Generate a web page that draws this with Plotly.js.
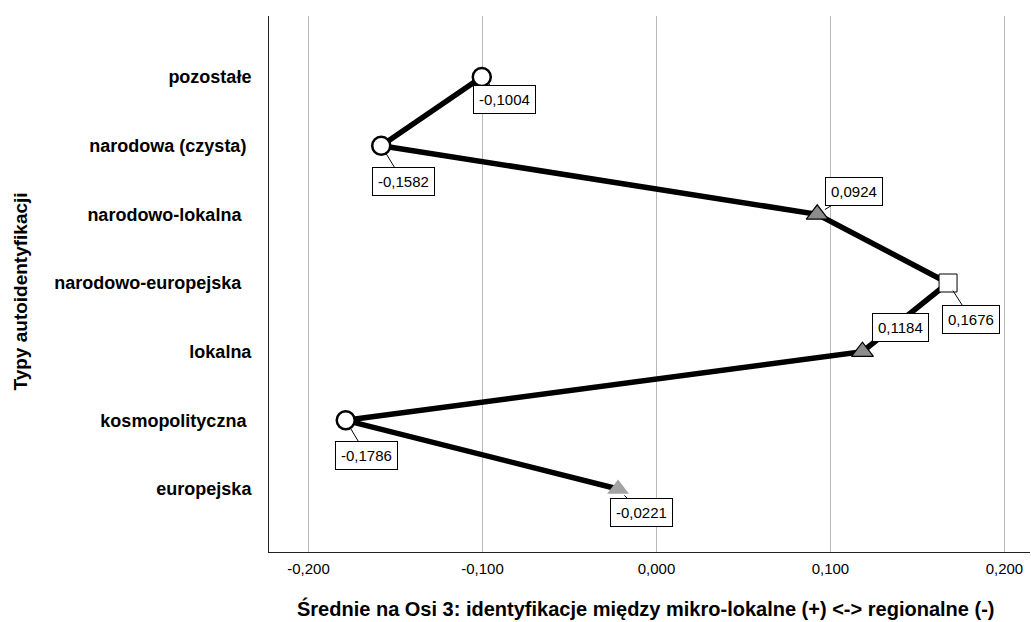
<!DOCTYPE html>
<html>
<head>
<meta charset="utf-8">
<script src="https://cdn.plot.ly/plotly-3.0.1.min.js"></script>
<style>html,body{margin:0;padding:0;background:#fff;}#chart{width:1031px;height:622px;}</style>
</head>
<body>
<div id="chart"></div>
<script>
// Categories from bottom to top
var categories = ["europejska", "kosmopolityczna", "lokalna", "narodowo-europejska", "narodowo-lokalna", "narodowa (czysta)", "pozostałe"];
var tickLabels = ["europejska", "kosmopolityczna\u00a0", "lokalna", "narodowo-europejska\u00a0\u00a0", "narodowo-lokalna\u00a0\u00a0", "narodowa (czysta)\u00a0", "pozostałe"];
var means = [-0.0221, -0.1786, 0.1184, 0.1676, 0.0924, -0.1582, -0.1004];
var xTickVals = [-0.2, -0.1, 0, 0.1, 0.2];
var xTickText = ["-0,200", "-0,100", "0,000", "0,100", "0,200"];
var symbols = ["triangle-up", "circle", "triangle-up", "square", "triangle-up", "circle", "circle"];
var fills = ["#a3a3a3", "#ffffff", "#8c8c8c", "#ffffff", "#8c8c8c", "#ffffff", "#ffffff"];
var outlineW = [0, 2.5, 1.2, 1, 1.2, 2.5, 2.5];
var sizes = [19, 18, 19, 18, 19, 18, 18];
var labelOffX = [23, 21, 38, 23, 37, 22, 23];
var labelOffY = [23, 35, -24, 36, -23, 36, 23];

var idx = categories.map(function(c, i){ return i; });
var FONT = 'Arial, Liberation Sans, sans-serif';

function fmt(v){ return v.toFixed(4).replace('.', ','); }

var trace = {
  type: 'scatter',
  mode: 'lines+markers',
  x: means,
  y: idx,
  line: {color: '#000000', width: 5.5},
  marker: {
    symbol: symbols,
    size: sizes,
    opacity: 1,
    color: fills,
    line: {color: '#000000', width: outlineW}
  },
  hoverinfo: 'none',
  cliponaxis: false
};

var annotations = means.map(function(v, i){
  return {
    x: v, y: i, xref: 'x', yref: 'y',
    text: fmt(v),
    showarrow: true, arrowhead: 0, arrowwidth: 1, arrowcolor: '#000',
    standoff: 9,
    ax: labelOffX[i], ay: labelOffY[i],
    bgcolor: '#ffffff', bordercolor: '#000000', borderwidth: 1, borderpad: 5,
    font: {family: FONT, size: 15, color: '#000'}
  };
});

// Axis titles as positioned annotations
annotations.push({
  xref: 'paper', yref: 'paper', x: 0.495, y: 0, yshift: -56,
  xanchor: 'center', yanchor: 'middle', showarrow: false,
  text: '<b>Średnie na Osi 3: identyfikacje między mikro-lokalne (+) <-> regionalne (-)</b>',
  font: {family: FONT, size: 20, color: '#000'}
});
annotations.push({
  xref: 'paper', yref: 'paper', x: 0, xshift: -248, y: 0.486,
  xanchor: 'center', yanchor: 'middle', showarrow: false, textangle: -90,
  text: '<b>Typy autoidentyfikacji</b>',
  font: {family: FONT, size: 19, color: '#000'}
});

var layout = {
  width: 1031, height: 622,
  margin: {l: 269, r: 1, t: 16, b: 70},
  paper_bgcolor: '#ffffff', plot_bgcolor: '#ffffff',
  showlegend: false,
  xaxis: {
    range: [-0.2227, 0.2147],
    tickvals: xTickVals,
    ticktext: xTickText,
    showgrid: true, gridcolor: '#b8b8b8', gridwidth: 1,
    zeroline: false,
    showline: true, linecolor: '#222222', linewidth: 1,
    ticks: '', ticklabelstandoff: 3,
    tickfont: {family: FONT, size: 15, color: '#000'},
    fixedrange: true
  },
  yaxis: {
    range: [-0.917, 6.888],
    tickvals: idx,
    ticktext: tickLabels.map(function(t){ return '<b>' + t + '</b>'; }),
    showgrid: false, zeroline: false,
    showline: true, linecolor: '#222222', linewidth: 1,
    ticks: '', ticklabelstandoff: 13,
    tickfont: {family: FONT, size: 18, color: '#000'},
    fixedrange: true
  },
  annotations: annotations
};

Plotly.newPlot('chart', [trace], layout, {staticPlot: true, displayModeBar: false});
</script>
</body>
</html>
